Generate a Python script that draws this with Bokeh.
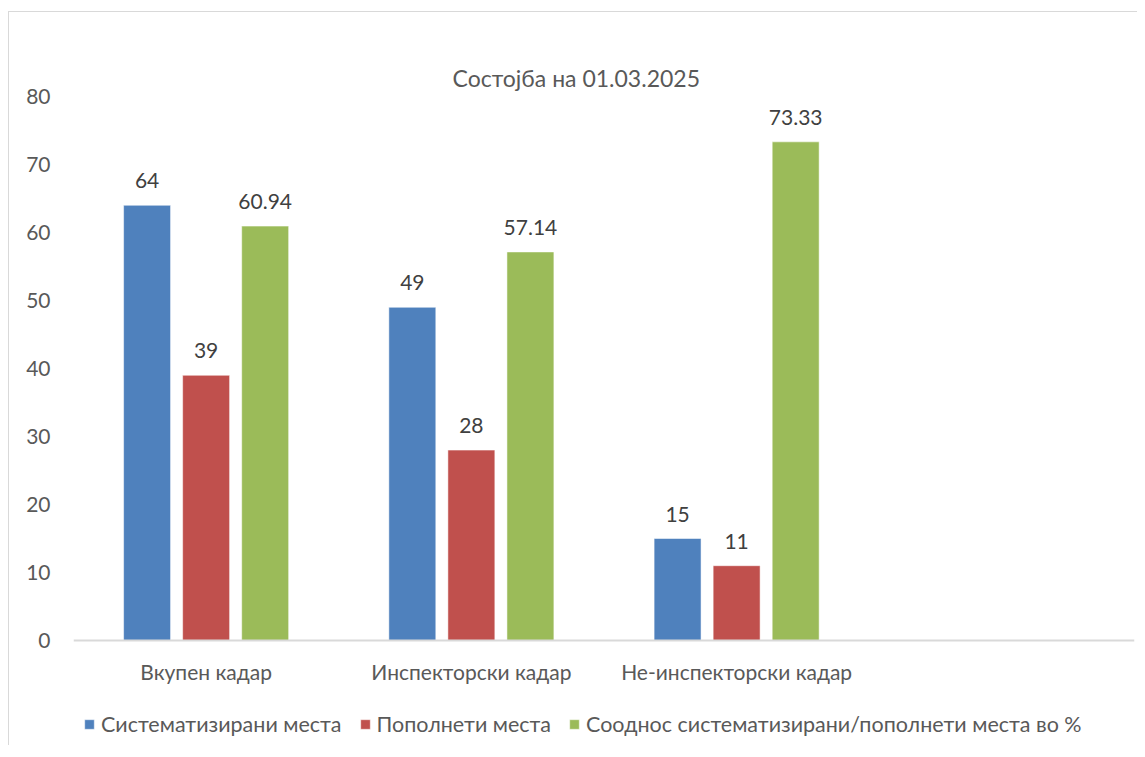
from bokeh.plotting import figure
from bokeh.models import ColumnDataSource, FactorRange, LabelSet, Legend, LegendItem, Range1d, Span
from bokeh.transform import dodge
from bokeh.core.properties import value
from bokeh.embed import file_html
from bokeh.resources import INLINE

categories = ["Вкупен кадар", "Инспекторски кадар", "Не-инспекторски кадар"]
factors = categories + [" "]
systematized = [64, 49, 15]
filled = [39, 28, 11]
ratio = [60.94, 57.14, 73.33]
ratio_labels = ["60.94", "57.14", "73.33"]
series_names = ["Систематизирани места", "Пополнети места",
                "Соодно" + "с систематизирани/пополнети места во %"]
colors = ["#4F81BD", "#C0504D", "#9BBB59"]
title_text = "Состојба на 01.03.2025"
y_ticks = [0, 10, 20, 30, 40, 50, 60, 70, 80]

FONT = "Lato"
TXT = "#595959"
FS = "21px"

# frame spans from the top value (80) down to below the legend row
p = figure(x_range=FactorRange(*factors), y_range=Range1d(-15.44, 80),
           frame_width=1061, frame_height=649,
           output_backend="svg", toolbar_location=None,
           min_border_left=64, min_border_right=3, min_border_top=84, min_border_bottom=0,
           styles={"margin-top": "11px", "margin-left": "8px",
                   "border-top": "1px solid #d9d9d9", "border-left": "1px solid #d9d9d9"})
p.outline_line_color = None
p.xgrid.grid_line_color = None
p.ygrid.grid_line_color = None
p.background_fill_color = "white"
p.border_fill_color = "white"

p.title.text = title_text
p.title.align = "left"
p.title.offset = 379
p.title.standoff = 10
p.title.text_font = FONT
p.title.text_font_size = "23px"
p.title.text_font_style = "normal"
p.title.text_color = TXT

src = ColumnDataSource(dict(cat=categories, s=systematized, f=filled, r=ratio,
                            sl=[str(v) for v in systematized], fl=[str(v) for v in filled], rl=ratio_labels))

off = 0.2226
bw = 0.177
r1 = p.vbar(x=dodge("cat", -off, range=p.x_range), top="s", bottom=0, width=bw, source=src,
            fill_color=colors[0], line_color="#ffffff", line_alpha=0.5)
r2 = p.vbar(x=dodge("cat", 0, range=p.x_range), top="f", bottom=0, width=bw, source=src,
            fill_color=colors[1], line_color="#ffffff", line_alpha=0.5)
r3 = p.vbar(x=dodge("cat", off, range=p.x_range), top="r", bottom=0, width=bw, source=src,
            fill_color=colors[2], line_color="#ffffff", line_alpha=0.5)

for xo, ycol, tcol in [(-off, "s", "sl"), (0, "f", "fl"), (off, "r", "rl")]:
    ls = LabelSet(x=dodge("cat", xo, range=p.x_range), y=ycol, text=tcol, source=src,
                  text_align="center", text_baseline="bottom", y_offset=17,
                  text_font=value(FONT), text_font_size=value("21px"), text_color=value("#404040"))
    p.add_layout(ls)

# category axis line at zero and category labels
p.add_layout(Span(location=0, dimension="width", line_color="#d9d9d9", line_width=2))
p.text(x="cat", y=-4.56, text="cat", source=src, text_align="center", text_baseline="middle",
       text_font=value(FONT), text_font_size=value(FS), text_color=TXT)
p.xaxis.visible = False

p.yaxis.axis_line_color = None
p.yaxis.major_tick_line_color = None
p.yaxis.minor_tick_line_color = None
p.yaxis.ticker = y_ticks
p.yaxis.major_label_text_font = FONT
p.yaxis.major_label_text_font_size = FS
p.yaxis.major_label_text_color = TXT
p.yaxis.major_label_standoff = 17

legend = Legend(items=[LegendItem(label=series_names[0], renderers=[r1]),
                       LegendItem(label=series_names[1], renderers=[r2]),
                       LegendItem(label=series_names[2], renderers=[r3])],
                orientation="horizontal", location=(10, 8), padding=0, spacing=17, margin=0,
                glyph_width=12, glyph_height=12, label_standoff=6,
                label_text_font=FONT, label_text_font_size="21.5px", label_text_color=TXT,
                border_line_color=None, background_fill_alpha=0)
p.add_layout(legend, "center")

open("out.html", "w").write(file_html(p, INLINE))
